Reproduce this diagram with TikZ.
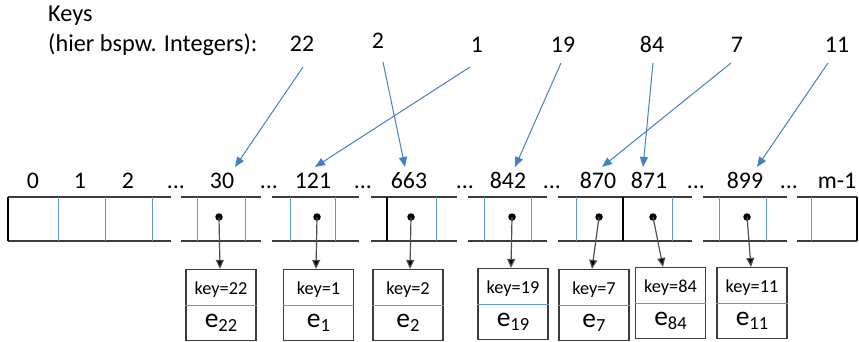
\documentclass[tikz,border=0pt]{standalone}
\usepackage{fontspec}
\setmainfont{Carlito}
\usetikzlibrary{arrows.meta}
\definecolor{cellblue}{RGB}{91,155,213}
\definecolor{arrowblue}{RGB}{68,128,198}
\definecolor{framegray}{RGB}{60,60,60}
\definecolor{ptrgray}{RGB}{80,80,80}

% entry box: name, x, y, key text, subscript
\newcommand\entrybox[5]{%
  \node[elem] (#1) at (#2,#3) {};
  \draw[cellblue, line width=1pt] (#1.west) -- (#1.east);
  \node[keytxt] (#1k) at ([yshift=11pt]#1.center) {key=#4};
  \node[etxt] (#1e) at ([yshift=-22pt]#1.center) {e\raisebox{-4pt}{\fontsize{18.5}{18.5}\selectfont #5}};
}

\begin{document}
\begin{tikzpicture}[x=1pt,y=-1pt,
  lbl/.style={anchor=base, inner sep=0pt, font=\fontsize{23.8}{23.8}\selectfont},
  head/.style={anchor=base west, inner sep=0pt, font=\fontsize{24.3}{24.3}\selectfont},
  keytxt/.style={anchor=base, inner sep=0pt, font=\fontsize{18.3}{18.3}\selectfont},
  etxt/.style={anchor=base, inner sep=0pt, font=\fontsize{27.5}{27.5}\selectfont},
  elem/.style={draw=framegray, line width=1.2pt, minimum width=70pt, minimum height=71pt, inner sep=0pt},
  rail/.style={draw=framegray, line width=1.2pt},
  sep/.style={draw=cellblue, line width=1pt},
  bound/.style={draw=black, line width=1.3pt},
  ptr/.style={circle, fill=black, inner sep=0pt, minimum size=7.5pt},
  ptrline/.style={draw=ptrgray, line width=1.2pt, -{Triangle[length=9pt,width=8pt,fill=black]}},
  keyarrow/.style={draw=arrowblue, line width=1pt, -{Triangle[length=10pt,width=8pt]}}
]
\useasboundingbox (0,0) rectangle (859,342);

% heading
\node[head] (hk) at (48,22) {Keys};
\node[head] (hb) at (48,52) {(hier bspw. Integers):};

% key values
\node[lbl] (k22) at (302,52) {22};
\node[lbl] (k2)  at (378,49) {2};
\node[lbl] (k1)  at (477,53) {1};
\node[lbl] (k19) at (563,53) {19};
\node[lbl] (k84) at (652,53) {84};
\node[lbl] (k7)  at (737,53) {7};
\node[lbl] (k11) at (837,53) {11};

% slot indices
\node[lbl] (i0)   at (33,188)  {0};
\node[lbl] (i1)   at (80,188)  {1};
\node[lbl] (i2)   at (128,188) {2};
\node[lbl] (g1)   at (176,188) {...};
\node[lbl] (i30)  at (222,188) {30};
\node[lbl] (g2)   at (269,188) {...};
\node[lbl] (i121) at (313,188) {121};
\node[lbl] (g3)   at (363,188) {...};
\node[lbl] (i663) at (409,188) {663};
\node[lbl] (g4)   at (465,188) {...};
\node[lbl] (i842) at (508,188) {842};
\node[lbl] (g5)   at (552,188) {...};
\node[lbl] (i870) at (598,188) {870};
\node[lbl] (i871) at (649,188) {871};
\node[lbl] (g6)   at (696,188) {...};
\node[lbl] (i899) at (745,188) {899};
\node[lbl] (g7)   at (789,188) {...};
\node[lbl] (im)   at (837,188) {m-1};

% table segments
\foreach \a/\b in {8/171,181/261,272/359,371/457,468/547,558/692,703/787,797/857}{
  \draw[rail] (\a,197) -- (\b,197);
  \draw[rail] (\a,241) -- (\b,241);
}
\foreach \x in {58,105,152,197,245,290,335,436,484,531,576,672,719,766,811}{
  \draw[sep] (\x,197) -- (\x,241);
}
\foreach \x in {8,387,623,857}{
  \draw[bound] (\x,197) -- (\x,241);
}

% hash arrows
\draw[keyarrow] ([shift={(1,15)}]k22.base) -- ([shift={(13,-21)}]i30.base);
\draw[keyarrow] ([shift={(5,13)}]k2.base)  -- ([shift={(-4,-21)}]i663.base);
\draw[keyarrow] ([shift={(-7,14)}]k1.base) -- ([shift={(2,-21)}]i121.base);
\draw[keyarrow] ([shift={(-2,10)}]k19.base) -- ([shift={(7,-21)}]i842.base);
\draw[keyarrow] ([shift={(1,10)}]k84.base) -- ([shift={(-6,-21)}]i871.base);
\draw[keyarrow] ([shift={(-6,10)}]k7.base) -- ([shift={(4,-21)}]i870.base);
\draw[keyarrow] ([shift={(-9,10)}]k11.base) -- ([shift={(12,-21)}]i899.base);

% entries
\entrybox{e22}{221}{305}{22}{22}
\entrybox{e1}{318.5}{305}{1}{1}
\entrybox{e2}{408}{305}{2}{2}
\entrybox{e19}{513}{304}{19}{19}
\entrybox{e7}{594}{305}{7}{7}
\entrybox{e84}{670.5}{303}{84}{84}
\entrybox{e11}{752}{303}{11}{11}

% pointers
\node[ptr] (d30)  at (219,217) {};
\node[ptr] (d121) at (317,217) {};
\node[ptr] (d663) at (411,217) {};
\node[ptr] (d842) at (512,217) {};
\node[ptr] (d870) at (599,217) {};
\node[ptr] (d871) at (653,217) {};
\node[ptr] (d899) at (747,217) {};

\draw[ptrline] (d30.center)  -- ([xshift=-1pt]e22.north);
\draw[ptrline] (d121.center) -- ([xshift=-2.5pt]e1.north);
\draw[ptrline] (d663.center) -- ([xshift=2pt]e2.north);
\draw[ptrline] (d842.center) -- ([xshift=-2pt]e19.north);
\draw[ptrline] (d870.center) -- ([xshift=-2pt]e7.north);
\draw[ptrline] (d871.center) -- ([xshift=-7.5pt]e84.north);
\draw[ptrline] (d899.center) -- ([xshift=-1pt]e11.north);
\end{tikzpicture}
\end{document}
